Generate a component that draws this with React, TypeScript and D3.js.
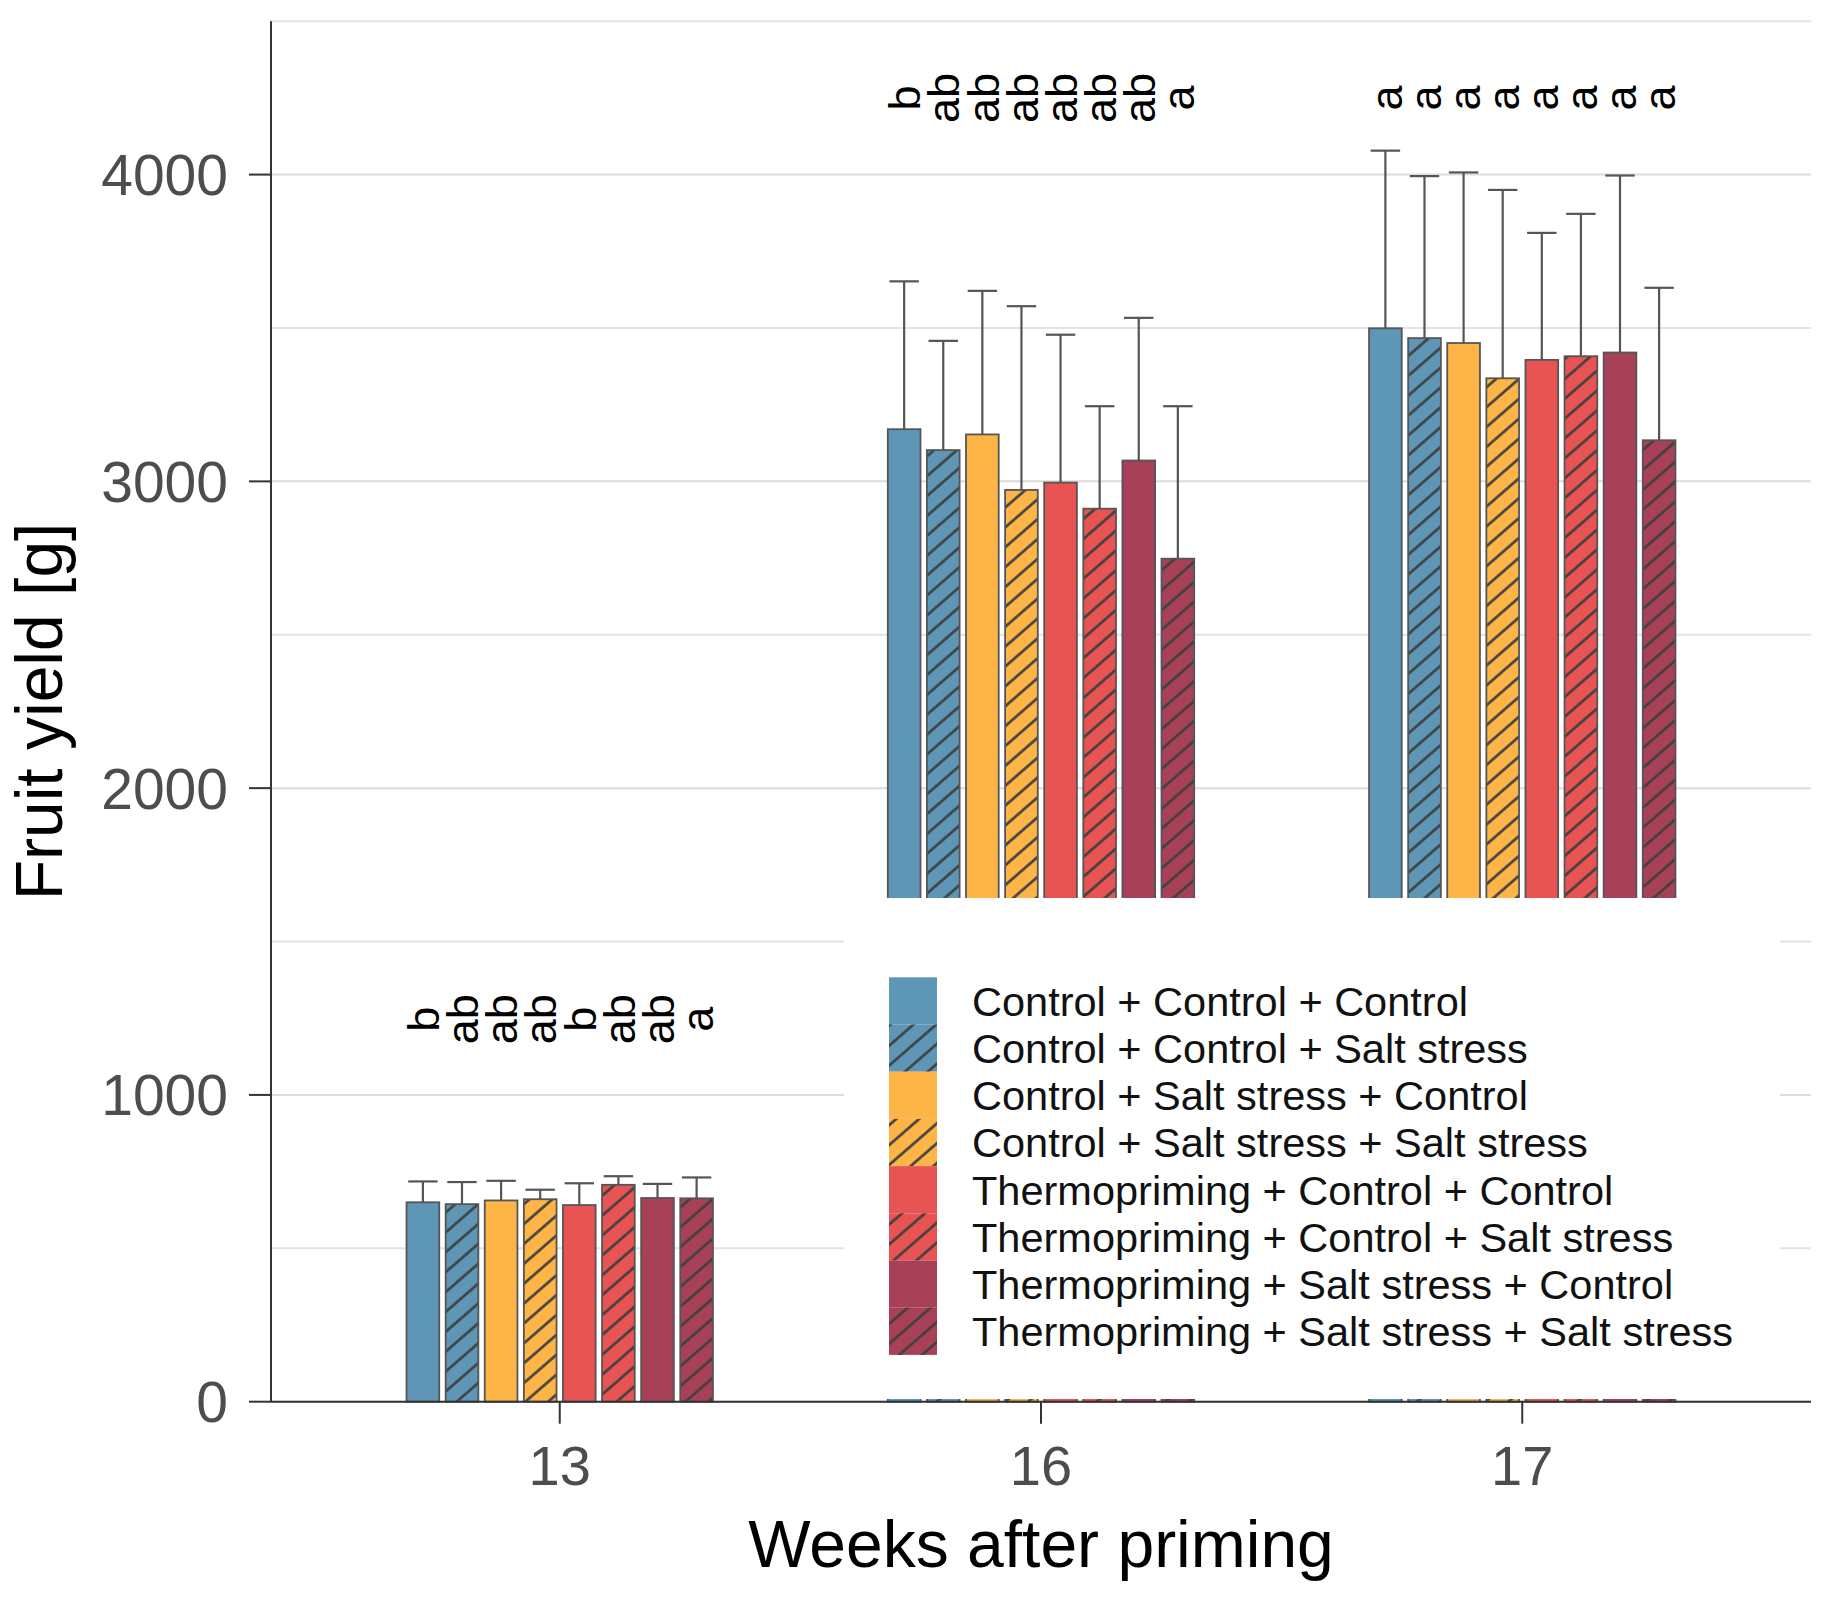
import React from 'react';
import { scaleLinear, scalePoint, scaleBand, range } from 'd3';

// weeks after priming
const weeks = ['13', '16', '17'];

const treatments = [
    'Control + Control + Control',
    'Control + Control + Salt stress',
    'Control + Salt stress + Control',
    'Control + Salt stress + Salt stress',
    'Thermopriming + Control + Control',
    'Thermopriming + Control + Salt stress',
    'Thermopriming + Salt stress + Control',
    'Thermopriming + Salt stress + Salt stress',
];

const colors = ['#5e96b6', '#5e96b6', '#fdb547', '#fdb547', '#e85353', '#e85353', '#a84157', '#a84157'];
const hatched = [false, true, false, true, false, true, false, true];

// mean fruit yield [g] per treatment
const week13 = [650, 644, 656, 660, 641, 707, 664, 663];
const week16 = [3170, 3102, 3153, 2972, 2996, 2911, 3068, 2748];
const week17 = [3499, 3467, 3451, 3336, 3396, 3408, 3420, 3134];

// error (upper whisker length)
const err13 = [68, 72, 64, 31, 71, 28, 46, 68];
const err16 = [482, 356, 468, 599, 482, 334, 465, 497];
const err17 = [579, 528, 556, 614, 414, 464, 577, 497];

// significance letters
const letters13 = ['b', 'ab', 'ab', 'ab', 'b', 'ab', 'ab', 'a'];
const letters16 = ['b', 'ab', 'ab', 'ab', 'ab', 'ab', 'ab', 'a'];
const letters17 = ['a', 'a', 'a', 'a', 'a', 'a', 'a', 'a'];
const letterY = [1247, 4250, 4250];

const yTicks = [0, 1000, 2000, 3000, 4000];
const yMinor = [500, 1500, 2500, 3500, 4500];

const means = [week13, week16, week17];
const errs = [err13, err16, err17];
const letters = [letters13, letters16, letters17];

const W = 1824;
const H = 1597;
const left = 271;
const right = 1811;
const top = 21.2;
const bottom = 1401.7;
const font = '"Liberation Sans", Arial, Helvetica, sans-serif';

export default function App() {
    const y = scaleLinear().domain([0, 4500]).range([bottom, top]);
    const x = scalePoint().domain(weeks).range([left, right]).padding(0.6);
    const step = x.step();
    const dodge = 0.65 * step;
    const inner: any = scaleBand()
        .domain(range(8).map(String))
        .range([-dodge / 2, dodge / 2])
        .paddingInner(0.164)
        .paddingOuter(0.082);
    const bw = inner.bandwidth();

    const bars: any[] = [];
    weeks.forEach((wk, gi) => {
        means[gi].forEach((v, i) => {
            const x0 = (x(wk) as number) + inner(String(i));
            bars.push({ gi, i, x0, cx: x0 + bw / 2, v, e: errs[gi][i], letter: letters[gi][i] });
        });
    });

    // legend box
    const lg = { x: 844, y: 898, w: 936, h: 501 };
    const keyX = 889;
    const keyY = 977.3;
    const keyW = 48;
    const keyH = 47.2;

    return (
        <svg width={W} height={H} style={{ position: 'absolute', left: 0, top: 0, background: '#fff' }} fontFamily={font}>
            <defs>
                <pattern id="hatch" patternUnits="userSpaceOnUse" width={15} height={15} patternTransform="rotate(49)">
                    <line x1={7.5} y1={-2} x2={7.5} y2={17} stroke="#3f3f3f" strokeWidth={2.6} />
                </pattern>
            </defs>
            <rect width={W} height={H} fill="#fff" />

            {/* grid */}
            {yMinor.map((t) => (
                <line key={'m' + t} x1={left} x2={right} y1={y(t)} y2={y(t)} stroke="#e3e3e3" strokeWidth={2} />
            ))}
            {yTicks.map((t) => (
                <line key={'g' + t} x1={left} x2={right} y1={y(t)} y2={y(t)} stroke="#dcdcdc" strokeWidth={2} />
            ))}

            {/* error bars (upper) */}
            {bars.map((b) => (
                <g key={'e' + b.gi + b.i} stroke="#555" strokeWidth={2.2}>
                    <line x1={b.cx} x2={b.cx} y1={y(b.v)} y2={y(b.v + b.e)} />
                    <line x1={b.cx - bw * 0.45} x2={b.cx + bw * 0.45} y1={y(b.v + b.e)} y2={y(b.v + b.e)} />
                </g>
            ))}

            {/* bars */}
            {bars.map((b) => (
                <g key={'b' + b.gi + b.i}>
                    <rect x={b.x0} y={y(b.v)} width={bw} height={y(0) - y(b.v)} fill={colors[b.i]} />
                    {hatched[b.i] && <rect x={b.x0} y={y(b.v)} width={bw} height={y(0) - y(b.v)} fill="url(#hatch)" />}
                    <rect x={b.x0} y={y(b.v)} width={bw} height={y(0) - y(b.v)} fill="none" stroke="#555" strokeWidth={1.8} />
                </g>
            ))}

            {/* letters */}
            {bars.map((b) => (
                <text
                    key={'l' + b.gi + b.i}
                    transform={`translate(${b.cx},${y(letterY[b.gi])}) rotate(-90)`}
                    textAnchor="middle"
                    dy="0.36em"
                    fontSize={45}
                    fill="#000"
                >
                    {b.letter}
                </text>
            ))}

            {/* legend */}
            <rect x={lg.x} y={lg.y} width={lg.w} height={lg.h} fill="#fff" />
            {treatments.map((t, i) => (
                <g key={'k' + i}>
                    <rect x={keyX} y={keyY + i * keyH} width={keyW} height={keyH} fill={colors[i]} />
                    {hatched[i] && <rect x={keyX} y={keyY + i * keyH} width={keyW} height={keyH} fill="url(#hatch)" />}
                    <text x={972} y={keyY + (i + 0.5) * keyH} dy="0.36em" fontSize={41.5} fill="#111">
                        {t}
                    </text>
                </g>
            ))}

            {/* axes */}
            <line x1={left} x2={left} y1={top} y2={bottom} stroke="#333" strokeWidth={2} />
            <line x1={left} x2={right} y1={bottom} y2={bottom} stroke="#333" strokeWidth={2} />
            {yTicks.map((t) => (
                <g key={'yt' + t}>
                    <line x1={left - 22} x2={left} y1={y(t)} y2={y(t)} stroke="#333" strokeWidth={2} />
                    <text x={228} y={y(t)} dy="0.36em" textAnchor="end" fontSize={57} fill="#4d4d4d">
                        {t}
                    </text>
                </g>
            ))}
            {weeks.map((wk) => (
                <g key={'xt' + wk}>
                    <line x1={x(wk)} x2={x(wk)} y1={bottom} y2={bottom + 22} stroke="#333" strokeWidth={2} />
                    <text x={x(wk)} y={1485} textAnchor="middle" fontSize={56} fill="#4d4d4d">
                        {wk}
                    </text>
                </g>
            ))}
            <text x={(left + right) / 2} y={1567} textAnchor="middle" fontSize={66} fill="#000">
                Weeks after priming
            </text>
            <text transform={`translate(62,${(top + bottom) / 2}) rotate(-90)`} textAnchor="middle" fontSize={66} fill="#000">
                Fruit yield [g]
            </text>
        </svg>
    );
}
